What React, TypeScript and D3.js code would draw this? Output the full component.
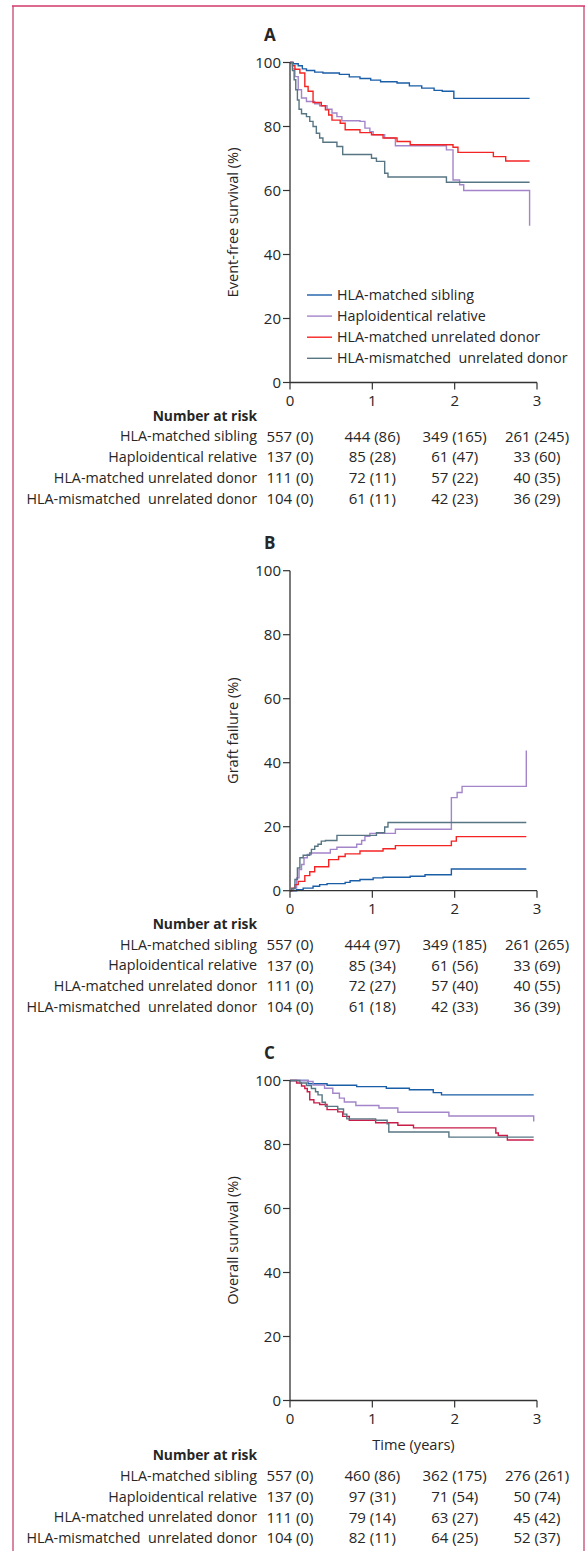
import React from "react";
import * as d3 from "d3";

// groups, in legend / risk-table order
const groups = [
  "HLA-matched sibling",
  "Haploidentical relative",
  "HLA-matched unrelated donor",
  "HLA-mismatched  unrelated donor",
];

const colorsAB = ["#1b5ea8", "#a385c9", "#f52424", "#587583"];
const colorsC = ["#1b5ea8", "#a385c9", "#c81d48", "#587583"];

const yTicks = [0, 20, 40, 60, 80, 100];
const xTicks = [0, 1, 2, 3];

type Pt = [number, number];

// A: event-free survival (%)
const efsSibling: Pt[] = [
  [0, 100], [0.04, 99.6], [0.1, 99], [0.15, 98], [0.2, 97.5], [0.3, 97], [0.4, 96.7],
  [0.6, 96.3], [0.72, 95.5], [0.85, 95], [0.98, 94.5], [1.1, 94], [1.3, 93.6],
  [1.45, 92.7], [1.6, 92], [1.75, 91.3], [1.85, 91], [1.99, 88.8], [2.91, 88.8],
];
const efsHaplo: Pt[] = [
  [0, 100], [0.03, 98], [0.06, 95.6], [0.1, 91.5], [0.14, 88.9], [0.2, 87.8], [0.3, 87.1],
  [0.36, 86.5], [0.45, 85.4], [0.51, 84.2], [0.57, 83.1], [0.63, 81.8], [0.85, 81.6],
  [0.91, 79.5], [0.97, 78.4], [1.01, 77.4], [1.15, 76.4], [1.28, 74], [1.9, 72.7],
  [1.98, 63.3], [2.06, 61.8], [2.11, 60], [2.91, 49],
];
const efsMUD: Pt[] = [
  [0, 100], [0.03, 99], [0.06, 97.9], [0.12, 96.7], [0.18, 92.5], [0.22, 91], [0.28, 87.5],
  [0.38, 86.5], [0.43, 85.2], [0.47, 83.6], [0.51, 82], [0.61, 81], [0.67, 79],
  [0.85, 78.1], [0.99, 77.4], [1.13, 76.4], [1.3, 75.3], [1.46, 74.3], [1.98, 73.5],
  [2.04, 71.9], [2.47, 70.6], [2.62, 69.2], [2.91, 69.2],
];
const efsMMUD: Pt[] = [
  [0, 100], [0.03, 97.5], [0.05, 94.6], [0.07, 91.5], [0.09, 88.3], [0.11, 85.4], [0.14, 84],
  [0.2, 83.1], [0.24, 81.6], [0.28, 80], [0.32, 77.9], [0.36, 76.4], [0.4, 75.1],
  [0.57, 73.75], [0.64, 71.25], [0.99, 70.1], [1.05, 69.1], [1.15, 65.4], [1.19, 64.2],
  [1.9, 62.6], [2.91, 62.6],
];

// B: graft failure (%)
const gfSibling: Pt[] = [
  [0, 0], [0.08, 0.3], [0.16, 0.8], [0.28, 1.4], [0.36, 1.9], [0.45, 2.2], [0.67, 2.6],
  [0.73, 3.1], [0.85, 3.5], [1.01, 4], [1.13, 4.2], [1.46, 4.5], [1.64, 5], [1.96, 6.8],
  [2.87, 6.8],
];
const gfHaplo: Pt[] = [
  [0, 0], [0.04, 0.8], [0.08, 4], [0.11, 6.6], [0.14, 8.2], [0.17, 10.3], [0.21, 11.3],
  [0.26, 11.8], [0.49, 12.9], [0.57, 13.6], [0.81, 14.5], [0.87, 15.7], [0.91, 17],
  [0.97, 17.9], [1.28, 19.2], [1.96, 29.1], [2.03, 30.7], [2.09, 32.6], [2.87, 43.8],
];
const gfMUD: Pt[] = [
  [0, 0], [0.02, 0.8], [0.06, 1.9], [0.1, 2.9], [0.18, 4.7], [0.24, 5.9], [0.3, 7.5],
  [0.47, 9.7], [0.59, 10.7], [0.67, 11.5], [0.85, 12.4], [1.13, 13.1], [1.28, 14.1],
  [1.96, 15.5], [2.02, 16.9], [2.87, 16.9],
];
const gfMMUD: Pt[] = [
  [0, 0], [0.02, 0.6], [0.06, 3.5], [0.09, 7.1], [0.12, 10.3], [0.16, 11.1], [0.24, 11.8],
  [0.26, 12.9], [0.3, 13.9], [0.34, 14.5], [0.38, 15.5], [0.43, 15.7], [0.57, 17.3],
  [1.05, 18.1], [1.15, 19.9], [1.19, 21.3], [2.87, 21.3],
];

// C: overall survival (%)
const osSibling: Pt[] = [
  [0, 100], [0.22, 99], [0.45, 98.5], [0.81, 98.1], [1.17, 97.6], [1.45, 97.1],
  [1.74, 96.2], [1.84, 95.5], [2.96, 95.5],
];
const osHaplo: Pt[] = [
  [0, 100], [0.22, 99.7], [0.28, 98.6], [0.42, 97.6], [0.52, 96], [0.6, 94.5],
  [0.66, 93.3], [0.8, 92.2], [1.08, 91.4], [1.31, 90.1], [1.93, 88.9], [2.96, 87.2],
];
const osMUD: Pt[] = [
  [0, 100], [0.08, 99.2], [0.14, 98.3], [0.18, 97.5], [0.21, 96.5], [0.24, 94], [0.29, 93],
  [0.36, 92.5], [0.45, 90.9], [0.58, 90.2], [0.64, 88.8], [0.72, 87.6], [1.04, 86.8],
  [1.31, 86], [1.5, 85.2], [2.5, 83.6], [2.53, 82.8], [2.64, 81.4], [2.96, 81.4],
];
const osMMUD: Pt[] = [
  [0, 100], [0.12, 99.2], [0.2, 98.4], [0.26, 97.5], [0.31, 96.5], [0.34, 95.5],
  [0.39, 93.2], [0.43, 91.9], [0.58, 91.1], [0.65, 89.5], [0.69, 88], [1.04, 87.6],
  [1.18, 86.5], [1.2, 83.9], [1.93, 82.3], [2.96, 82.3],
];

// number at risk (censored), at 0, 1, 2, 3 years
const efsAtRisk = [[557, 444, 349, 261], [137, 85, 61, 33], [111, 72, 57, 40], [104, 61, 42, 36]];
const efsCensored = [[0, 86, 165, 245], [0, 28, 47, 60], [0, 11, 22, 35], [0, 11, 23, 29]];
const gfAtRisk = [[557, 444, 349, 261], [137, 85, 61, 33], [111, 72, 57, 40], [104, 61, 42, 36]];
const gfCensored = [[0, 97, 185, 265], [0, 34, 56, 69], [0, 27, 40, 55], [0, 18, 33, 39]];
const osAtRisk = [[557, 460, 362, 276], [137, 97, 71, 50], [111, 79, 63, 45], [104, 82, 64, 52]];
const osCensored = [[0, 86, 175, 261], [0, 31, 54, 74], [0, 14, 27, 42], [0, 11, 25, 37]];

const font = "'Open Sans', sans-serif";
const ink = "#262626";
const plotH = 320;
const labelSize = 14.3;

const x = d3.scaleLinear().domain([0, 3]).range([290, 537]);

const panels = [
  { letter: "A", title: "Event-free survival (%)", top: 62.5, series: [efsSibling, efsHaplo, efsMUD, efsMMUD], colors: colorsAB, atRisk: efsAtRisk, censored: efsCensored, legend: true, xTitle: false },
  { letter: "B", title: "Graft failure (%)", top: 570.7, series: [gfSibling, gfHaplo, gfMUD, gfMMUD], colors: colorsAB, atRisk: gfAtRisk, censored: gfCensored, legend: false, xTitle: false },
  { letter: "C", title: "Overall survival (%)", top: 1080.5, series: [osSibling, osHaplo, osMUD, osMMUD], colors: colorsC, atRisk: osAtRisk, censored: osCensored, legend: false, xTitle: true },
];

function Panel({ p }: { p: (typeof panels)[number] }) {
  const y = d3.scaleLinear().domain([0, 100]).range([p.top + plotH, p.top]);
  const base = y(0);
  const line = d3
    .line<Pt>()
    .x((d) => x(d[0]))
    .y((d) => y(d[1]))
    .curve(d3.curveStepAfter);
  const tableTop = base + (p.xTitle ? 55 : 33.5);
  const rowH = 20.8;

  return (
    <g>
      <text x={264} y={p.top - 22} fontSize={17} fontWeight={700} fill={ink}>{p.letter}</text>

      {/* curves */}
      {p.series.map((s, i) => (
        <path key={i} d={line(s) || ""} fill="none" stroke={p.colors[i]} strokeWidth={1.4} />
      ))}

      {/* y axis */}
      <line x1={x(0)} x2={x(0)} y1={y(100)} y2={base} stroke="#333" strokeWidth={1.3} />
      {yTicks.map((t) => (
        <g key={t}>
          <line x1={x(0) - 7} x2={x(0)} y1={y(t)} y2={y(t)} stroke="#333" strokeWidth={1.2} />
          <text x={281} y={y(t)} dy="0.35em" textAnchor="end" fontSize={15} fill={ink}>{t}</text>
        </g>
      ))}
      <text
        transform={`translate(233,${p.top + plotH / 2}) rotate(-90)`}
        textAnchor="middle"
        dy="0.35em"
        fontSize={14.6}
        fill={ink}
      >
        {p.title}
      </text>

      {/* x axis */}
      <line x1={x(0)} x2={x(3)} y1={base} y2={base} stroke="#333" strokeWidth={1.3} />
      {xTicks.map((t) => (
        <g key={t}>
          <line x1={x(t)} x2={x(t)} y1={base} y2={base + 7} stroke="#333" strokeWidth={1.2} />
          <text x={x(t)} y={base + 18.5} dy="0.35em" textAnchor="middle" fontSize={15} fill={ink}>{t}</text>
        </g>
      ))}
      {p.xTitle && (
        <text x={x(1.5)} y={base + 44} dy="0.35em" textAnchor="middle" fontSize={14.6} fill={ink}>Time (years)</text>
      )}

      {/* legend */}
      {p.legend &&
        groups.map((g, i) => (
          <g key={g}>
            <line x1={307} x2={332} y1={p.top + 232.5 + i * 21.1} y2={p.top + 232.5 + i * 21.1} stroke={p.colors[i]} strokeWidth={1.4} />
            <text x={337} y={p.top + 232.5 + i * 21.1} dy="0.35em" fontSize={labelSize} fill={ink} style={{ whiteSpace: "pre" }}>{g}</text>
          </g>
        ))}

      {/* number at risk */}
      <text x={257} y={tableTop} dy="0.35em" textAnchor="end" fontSize={13.8} fontWeight={700} fill={ink}>Number at risk</text>
      {groups.map((g, i) => (
        <g key={g}>
          <text x={257} y={tableTop + 20.3 + i * rowH} dy="0.35em" textAnchor="end" fontSize={labelSize} fill={ink} style={{ whiteSpace: "pre" }}>{g}</text>
          {p.atRisk[i].map((n, j) => (
            <text key={j} x={x(xTicks[j])} y={tableTop + 20.3 + i * rowH} dy="0.35em" textAnchor="middle" fontSize={15} fill={ink}>
              {`${n} (${p.censored[i][j]})`}
            </text>
          ))}
        </g>
      ))}
    </g>
  );
}

export default function App() {
  const W = 587;
  const H = 1551;
  return (
    <svg width={W} height={H} style={{ position: "absolute", left: 0, top: 0, background: "#fff" }} fontFamily={font}>
      <rect width={W} height={H} fill="#fff" />
      {/* frame */}
      <line x1={13} x2={13} y1={6} y2={H} stroke="#da86a2" strokeWidth={2} />
      <line x1={584} x2={584} y1={6} y2={H} stroke="#da86a2" strokeWidth={2} />
      <line x1={12} x2={585} y1={6} y2={6} stroke="#d23868" strokeWidth={1.6} />
      {panels.map((p) => (
        <Panel key={p.letter} p={p} />
      ))}
    </svg>
  );
}
